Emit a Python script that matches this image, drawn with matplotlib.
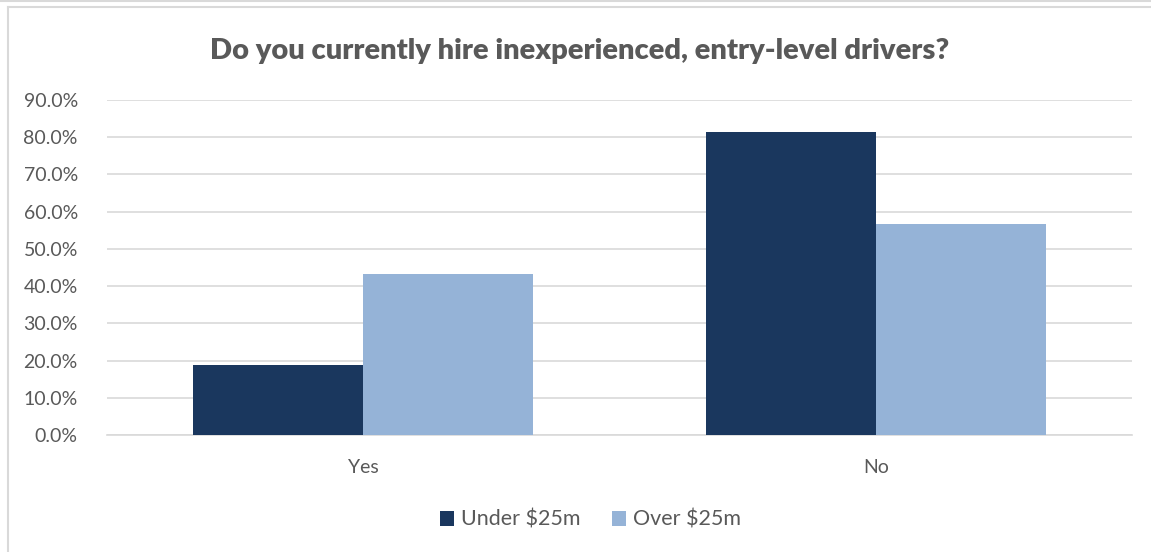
import matplotlib
matplotlib.use("Agg")
import matplotlib.pyplot as plt
from matplotlib.lines import Line2D
from matplotlib.ticker import FuncFormatter, MultipleLocator
import numpy as np

categories = ["Yes", "No"]
series_names = ["Under $25m", "Over $25m"]
under_25m = [18.7, 81.3]
over_25m = [43.3, 56.7]
title = "Do you currently hire inexperienced, entry-level drivers?"

dark_blue = "#1a375e"
light_blue = "#95b3d7"
text_grey = "#595959"
grid_grey = "#d9d9d9"
font = "Lato"

fig = plt.figure(figsize=(11.51, 5.52), dpi=100)
ax = fig.add_axes([107 / 1151, 1 - 435 / 552, (1132 - 107) / 1151, (435 - 100) / 552])

x = np.arange(len(categories))
w = 0.332
ax.bar(x - w / 2, under_25m, width=w, color=dark_blue, label=series_names[0], zorder=3)
ax.bar(x + w / 2, over_25m, width=w, color=light_blue, label=series_names[1], zorder=3)

ax.set_xlim(-0.5, 1.5)
ax.set_ylim(0, 90)
ax.yaxis.set_major_locator(MultipleLocator(10))
ax.yaxis.set_major_formatter(FuncFormatter(lambda v, p: f"{v:.1f}%"))
ax.set_xticks(x)
ax.set_xticklabels(categories)
ax.grid(axis="y", color=grid_grey, linewidth=1.2, zorder=0)
for s in ["top", "right", "left"]:
    ax.spines[s].set_visible(False)
ax.spines["bottom"].set_color(grid_grey)
ax.spines["bottom"].set_linewidth(1.2)
ax.tick_params(axis="both", length=0, colors=text_grey, labelsize=14)
ax.tick_params(axis="x", pad=17)
ax.tick_params(axis="y", pad=21)
for lab in ax.get_xticklabels() + ax.get_yticklabels():
    lab.set_fontfamily(font)

fig.text(0.504, 1 - 51 / 552, title, ha="center", va="center", fontsize=21,
         fontweight="heavy", color=text_grey, family=font)

leg = fig.legend(loc="center", bbox_to_anchor=(0.513, 1 - 520 / 552), ncol=2, frameon=False,
                 handlelength=0.65, handleheight=0.65, handletextpad=0.3, columnspacing=1.5,
                 prop={"family": font, "size": 15.5})
for t in leg.get_texts():
    t.set_color(text_grey)

# chart frame lines
fig.add_artist(Line2D([0, 1], [1 - 1 / 552, 1 - 1 / 552], transform=fig.transFigure, color=grid_grey, lw=1.5))
fig.add_artist(Line2D([8 / 1151, 1], [1 - 7 / 552, 1 - 7 / 552], transform=fig.transFigure, color=grid_grey, lw=1.5))
fig.add_artist(Line2D([8 / 1151, 8 / 1151], [0, 1 - 7 / 552], transform=fig.transFigure, color=grid_grey, lw=1.5))

fig.savefig("out.png", dpi=100, facecolor="white")
